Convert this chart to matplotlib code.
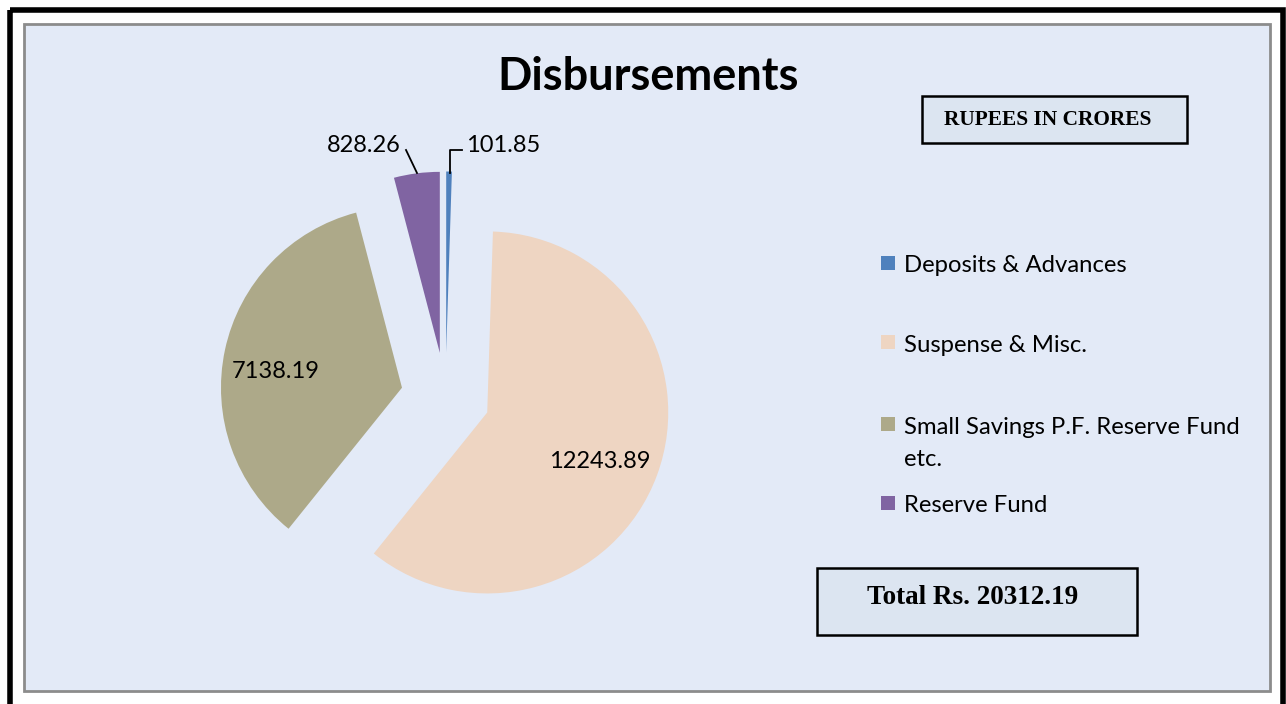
import matplotlib
matplotlib.use("Agg")
import matplotlib.pyplot as plt
from matplotlib.patches import Rectangle

categories = ["Deposits & Advances", "Suspense & Misc.",
              "Small Savings P.F. Reserve Fund\netc.", "Reserve Fund"]
values = [101.85, 12243.89, 7138.19, 828.26]
value_labels = ["101.85", "12243.89", "7138.19", "828.26"]
colors = ["#4F81BD", "#EED5C2", "#ADA989", "#8064A2"]
title = "Disbursements"
unit_text = "RUPEES IN CRORES"
total_text = "Total Rs. 20312.19"

W, H = 1286, 704
fig = plt.figure(figsize=(W / 100, H / 100), dpi=100)
fig.patch.set_facecolor("white")

# background axes in pixel coords (y down)
bgax = fig.add_axes([0, 0, 1, 1], zorder=0)
bgax.set_xlim(0, W)
bgax.set_ylim(H, 0)
bgax.axis("off")

bg = "#E3EAF7"
bgax.add_patch(Rectangle((9.5, 9.5), 1273.5, H + 20, facecolor="none",
                         edgecolor="black", linewidth=4))
bgax.add_patch(Rectangle((24, 24), 1246, 667, facecolor=bg,
                         edgecolor="#8C8C8C", linewidth=2))

# pie axes
ax = fig.add_axes([0, 0, 1, 1], zorder=1)
ax.patch.set_alpha(0)
cx, cy_down = 445.5, 397
r = 181
ax.pie(values, colors=colors, startangle=90, counterclock=False,
       explode=[44.5] * len(values), center=(cx, H - cy_down), radius=r,
       wedgeprops=dict(linewidth=0))
ax.set_xlim(0, W)
ax.set_ylim(0, H)
ax.set_aspect("auto")
ax.axis("off")

# overlay axes for text
ov = fig.add_axes([0, 0, 1, 1], zorder=2)
ov.patch.set_alpha(0)
ov.set_xlim(0, W)
ov.set_ylim(H, 0)
ov.axis("off")

font = "Lato"
fs = 17
ov.text(466, 145, value_labels[0], fontsize=fs, family=font, ha="left", va="center")
ov.text(600, 462, value_labels[1], fontsize=fs, family=font, ha="center", va="center")
ov.text(276, 372, value_labels[2], fontsize=fs, family=font, ha="center", va="center")
ov.text(401, 145, value_labels[3], fontsize=fs, family=font, ha="right", va="center")
ov.plot([406, 417], [150, 173], color="black", linewidth=1.3)
ov.plot([450, 450, 462], [173, 150, 150], color="black", linewidth=1.3)

ov.text(648, 77, title, fontsize=32.5, family=font, fontweight="bold",
        ha="center", va="center")

leg_y = [263, 342, 424, 503]
for yy, lab, c in zip(leg_y, categories, colors):
    ov.add_patch(Rectangle((881, yy - 7), 14, 14, facecolor=c, edgecolor="none"))
    for i, line in enumerate(lab.split("\n")):
        ov.text(904, yy + 3 + i * 33, line, fontsize=17.2, family=font,
                ha="left", va="center")

ov.add_patch(Rectangle((922, 96), 265, 47, facecolor="#DCE5F1",
                       edgecolor="black", linewidth=1.8))
ov.text(944, 120, unit_text, fontsize=15.4, family="Liberation Serif",
        fontweight="bold", ha="left", va="center")
ov.add_patch(Rectangle((817, 568), 320, 67, facecolor="#DCE5F1",
                       edgecolor="black", linewidth=1.8))
ov.text(973, 598, total_text, fontsize=19.5, family="Liberation Serif",
        fontweight="bold", ha="center", va="center")

fig.savefig("out.png", dpi=100)
